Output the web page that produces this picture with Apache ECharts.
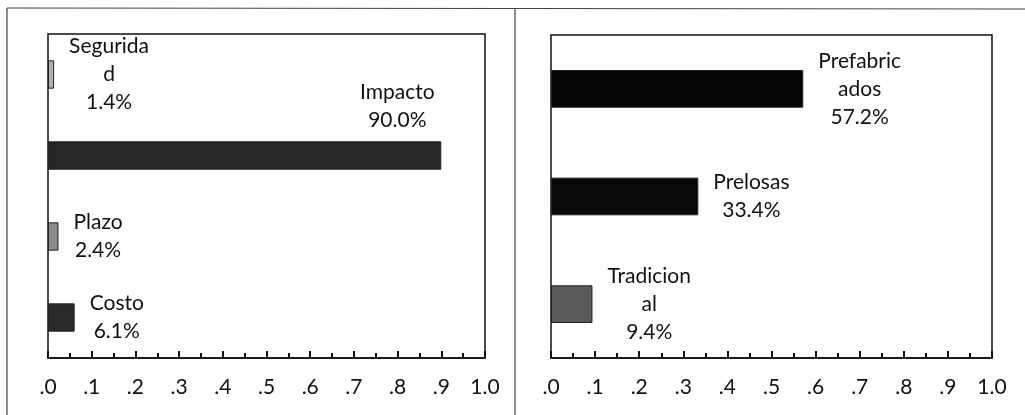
<!DOCTYPE html>
<html>
<head>
<meta charset="utf-8">
<title>Barras</title>
<script src="https://cdn.jsdelivr.net/npm/echarts@6/dist/echarts.min.js"></script>
<style>
  html, body {margin: 0; padding: 0; background: #fff;}
  #main {width: 1025px; height: 415px;}
</style>
</head>
<body>
<div id="main"></div>
<script>
// datos (de abajo hacia arriba)
const leftCategories = ['Costo', 'Plazo', 'Impacto', 'Seguridad'];
const leftLabelText = ['Costo', 'Plazo', 'Impacto', 'Segurida\nd'];
const leftValues = [0.061, 0.024, 0.900, 0.014];
const leftColors = ['#2a2a2a', '#8a8a8a', '#262626', '#b0b0b0'];

const rightCategories = ['Tradicional', 'Prelosas', 'Prefabricados'];
const rightLabelText = ['Tradicion\nal', 'Prelosas', 'Prefabric\nados'];
const rightValues = [0.094, 0.334, 0.572];
const rightColors = ['#5a5a5a', '#080808', '#050505'];

const tickLabels = ['.0', '.1', '.2', '.3', '.4', '.5', '.6', '.7', '.8', '.9', '1.0'];

const font = 'Lato, "Open Sans", sans-serif';

// texto centrado linea por linea
function labelFormatter(texts) {
  return function (p) {
    let lines = texts[p.dataIndex].split('\n');
    lines.push((p.value * 100).toFixed(1) + '%');
    return lines.map(l => '{c|' + l + '}').join('\n');
  };
}

function makeData(values, colors, special) {
  return values.map((v, i) => {
    let item = {
      value: v,
      itemStyle: {color: colors[i], borderColor: '#222', borderWidth: 1}
    };
    if (special && special[i]) item.label = special[i];
    return item;
  });
}

function xAxisFor(gridIndex) {
  return {
    gridIndex: gridIndex,
    type: 'value',
    min: 0,
    max: 1,
    interval: 0.1,
    axisLine: {show: true, lineStyle: {color: '#111', width: 1.5}},
    axisTick: {show: true, inside: true, length: 7, lineStyle: {color: '#111', width: 2}},
    minorTick: {show: true, splitNumber: 2, length: 5, lineStyle: {color: '#111', width: 2}},
    splitLine: {show: false},
    axisLabel: {
      margin: 19,
      color: '#111',
      fontSize: 21,
      fontFamily: font,
      formatter: v => tickLabels[Math.round(v * 10)]
    }
  };
}

function yAxisFor(gridIndex, cats) {
  return {
    gridIndex: gridIndex,
    type: 'category',
    data: cats,
    axisLine: {show: false},
    axisTick: {show: false},
    axisLabel: {show: false}
  };
}

const labelBase = {
  show: true,
  position: 'right',
  distance: 15,
  color: '#111',
  fontSize: 21,
  fontFamily: font,
  lineHeight: 28,
  rich: {c: {align: 'center', fontSize: 21, fontFamily: font, color: '#111', lineHeight: 28}}
};

let myChart = echarts.init(document.getElementById('main'));
myChart.setOption({
  animation: false,
  graphic: [
    {type: 'line', shape: {x1: 7, y1: 8, x2: 7, y2: 415}, style: {stroke: '#444', lineWidth: 1.2}},
    {type: 'line', shape: {x1: 7, y1: 8, x2: 1025, y2: 9}, style: {stroke: '#444', lineWidth: 1.2}},
    {type: 'line', shape: {x1: 515, y1: 8, x2: 515, y2: 415}, style: {stroke: '#444', lineWidth: 1.2}}
  ],
  grid: [
    {left: 48, top: 34, width: 437, height: 324, show: true, borderColor: '#111', borderWidth: 1.5},
    {left: 551, top: 35, width: 441, height: 323, show: true, borderColor: '#111', borderWidth: 1.5}
  ],
  xAxis: [xAxisFor(0), xAxisFor(1)],
  yAxis: [yAxisFor(0, leftCategories), yAxisFor(1, rightCategories)],
  series: [
    {
      name: 'izquierda',
      type: 'bar',
      xAxisIndex: 0,
      yAxisIndex: 0,
      barWidth: '35%',
      data: makeData(leftValues, leftColors, {
        // etiqueta de Impacto va encima de la barra
        2: {position: ['100%', 0], align: 'center', verticalAlign: 'middle', offset: [-44, -35]}
      }),
      label: Object.assign({}, labelBase, {formatter: labelFormatter(leftLabelText)})
    },
    {
      name: 'derecha',
      type: 'bar',
      xAxisIndex: 1,
      yAxisIndex: 1,
      barWidth: '35%',
      data: makeData(rightValues, rightColors),
      label: Object.assign({}, labelBase, {formatter: labelFormatter(rightLabelText)})
    }
  ]
});
</script>
</body>
</html>
